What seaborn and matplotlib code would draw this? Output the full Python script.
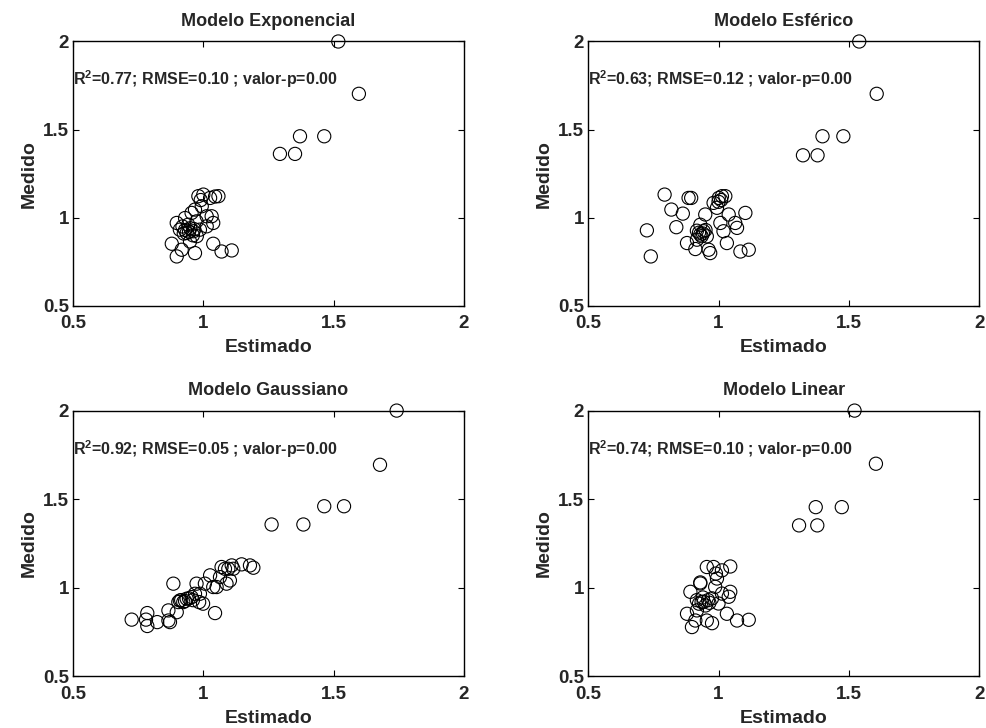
import matplotlib
matplotlib.use("Agg")
import matplotlib.pyplot as plt
import seaborn as sns
import pandas as pd

# Modelo Exponencial
exp_est = [1.518, 1.597, 1.371, 1.464, 1.294, 1.352,
           0.879, 0.898, 0.917, 0.968, 0.949, 0.898, 0.910, 0.936, 0.962, 0.987,
           0.955, 0.968, 0.994, 0.981, 1.000, 1.026, 1.058, 1.032, 1.038, 1.013,
           1.038, 1.070, 1.109, 0.942, 0.974, 0.930, 1.013, 0.930, 0.950, 0.960,
           0.920, 0.990, 1.045, 0.925, 0.945, 0.965, 0.975]
exp_med = [2.000, 1.703, 1.462, 1.462, 1.362, 1.362,
           0.852, 0.780, 0.818, 0.799, 0.865, 0.970, 0.932, 0.913, 0.923, 0.932,
           1.027, 1.046, 1.065, 1.122, 1.131, 1.112, 1.122, 1.008, 0.970, 0.951,
           0.852, 0.808, 0.814, 0.960, 0.979, 0.998, 1.008, 0.930, 0.940, 0.900,
           0.950, 1.100, 1.120, 0.910, 0.920, 0.935, 0.895]

# Modelo Esferico
esf_est = [1.540, 1.607, 1.399, 1.479, 1.324, 1.380,
           0.725, 0.740, 0.793, 0.819, 0.863, 0.838, 0.885, 0.895, 0.879, 0.911,
           0.917, 0.930, 0.943, 0.949, 0.962, 0.968, 0.981, 1.001, 1.013, 1.026,
           0.994, 1.007, 1.019, 1.032, 1.039, 1.064, 1.071, 1.103, 1.084, 1.116,
           0.930, 0.955, 0.917, 0.925, 0.940, 0.950, 0.935, 1.000, 1.010]
esf_med = [2.000, 1.703, 1.462, 1.462, 1.354, 1.354,
           0.928, 0.780, 1.131, 1.046, 1.023, 0.946, 1.112, 1.112, 0.856, 0.822,
           0.926, 0.904, 0.923, 1.018, 0.818, 0.799, 1.084, 1.112, 1.122, 1.122,
           1.056, 0.970, 0.923, 0.856, 1.018, 0.970, 0.942, 1.027, 0.808, 0.818,
           0.960, 0.894, 0.875, 0.915, 0.910, 0.930, 0.895, 1.090, 1.100]

# Modelo Gaussiano
gau_est = [1.742, 1.678, 1.464, 1.540, 1.262, 1.384,
           0.725, 0.785, 0.780, 0.785, 0.823, 0.866, 0.872, 0.866, 0.885, 0.898,
           0.904, 0.910, 0.923, 0.936, 0.955, 0.968, 0.974, 0.984, 0.999, 0.987,
           1.006, 1.045, 1.026, 1.038, 1.051, 1.064, 1.070, 1.089, 1.096, 1.109,
           1.115, 1.147, 1.179, 1.192, 1.083, 1.102, 0.915, 0.930, 0.945, 0.960]
gau_med = [2.000, 1.694, 1.460, 1.460, 1.357, 1.357,
           0.820, 0.857, 0.820, 0.784, 0.806, 0.815, 0.806, 0.872, 1.023, 0.862,
           0.919, 0.928, 0.919, 0.938, 0.947, 0.966, 1.023, 0.919, 0.910, 0.966,
           1.023, 0.857, 1.070, 1.004, 1.004, 1.060, 1.117, 1.023, 1.107, 1.126,
           1.107, 1.132, 1.126, 1.113, 1.107, 1.041, 0.930, 0.925, 0.940, 0.930]

# Modelo Linear
lin_est = [1.522, 1.604, 1.373, 1.473, 1.309, 1.379,
           0.879, 0.898, 0.911, 0.892, 0.930, 0.917, 0.943, 0.975, 0.955, 0.975,
           0.955, 0.981, 1.013, 1.045, 0.994, 0.987, 1.013, 1.039, 1.045, 1.032,
           1.071, 1.116, 0.917, 1.000, 0.925, 0.935, 0.950, 0.960, 0.940, 0.965,
           0.930, 0.990]
lin_med = [2.000, 1.700, 1.455, 1.455, 1.352, 1.352,
           0.853, 0.778, 0.815, 0.977, 1.024, 0.930, 0.921, 0.940, 0.815, 0.800,
           1.117, 1.117, 1.098, 1.120, 1.052, 1.005, 0.967, 0.949, 0.977, 0.853,
           0.815, 0.819, 0.872, 0.911, 0.910, 0.920, 0.900, 0.930, 0.945, 0.915,
           1.030, 1.080]

titles = ["Modelo Exponencial", "Modelo Esférico", "Modelo Gaussiano", "Modelo Linear"]
stats = ["R$^\\mathbf{2}$=0.77; RMSE=0.10 ; valor-p=0.00",
         "R$^\\mathbf{2}$=0.63; RMSE=0.12 ; valor-p=0.00",
         "R$^\\mathbf{2}$=0.92; RMSE=0.05 ; valor-p=0.00",
         "R$^\\mathbf{2}$=0.74; RMSE=0.10 ; valor-p=0.00"]
ticks = [0.5, 1, 1.5, 2]
tick_labels = ["0.5", "1", "1.5", "2"]

sns.set_style("ticks")
plt.rcParams["font.family"] = ["Liberation Sans", "DejaVu Sans"]
plt.rcParams["font.weight"] = "bold"
plt.rcParams["mathtext.fontset"] = "custom"
plt.rcParams["mathtext.rm"] = "Liberation Sans:bold"
plt.rcParams["mathtext.bf"] = "Liberation Sans:bold"
plt.rcParams["mathtext.it"] = "Liberation Sans:bold"

fig = plt.figure(figsize=(9.87, 7.28), dpi=100)
positions = [[0.074, 0.580, 0.396, 0.363],
             [0.596, 0.580, 0.396, 0.363],
             [0.074, 0.071, 0.396, 0.365],
             [0.596, 0.071, 0.396, 0.365]]
panels = [(exp_est, exp_med), (esf_est, esf_med), (gau_est, gau_med), (lin_est, lin_med)]

for pos, (est, med), title, txt in zip(positions, panels, titles, stats):
    ax = fig.add_axes(pos)
    df = pd.DataFrame({"Estimado": est, "Medido": med})
    sns.scatterplot(data=df, x="Estimado", y="Medido", ax=ax, marker="o", s=90,
                    facecolor="none", edgecolor="black", linewidth=0.8)
    for c in ax.collections:
        c.set_clip_on(False)
    ax.set_xlim(0.5, 2)
    ax.set_ylim(0.5, 2)
    ax.set_xticks(ticks)
    ax.set_xticklabels(tick_labels)
    ax.set_yticks(ticks)
    ax.set_yticklabels(tick_labels)
    ax.tick_params(direction="in", top=True, right=True, length=4, width=0.8,
                   labelsize=13.5, color="black")
    ax.tick_params(axis="x", pad=7)
    ax.tick_params(axis="y", pad=3)
    for sp in ax.spines.values():
        sp.set_color("black")
        sp.set_linewidth(1.0)
    ax.set_title(title, fontsize=13, fontweight="bold", pad=11)
    ax.set_xlabel("Estimado", fontsize=14, fontweight="bold", labelpad=5)
    ax.set_ylabel("Medido", fontsize=14, fontweight="bold", labelpad=4)
    ax.text(0.5, 1.785, txt, fontsize=11.5, fontweight="bold", ha="left", va="center")

fig.savefig("out.png", dpi=100)
